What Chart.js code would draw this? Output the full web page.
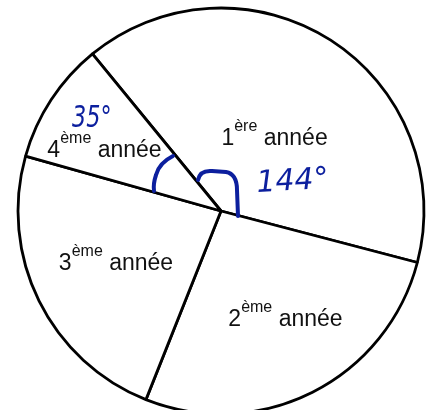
<!DOCTYPE html>
<html>
<head>
<meta charset="utf-8">
<script src="https://cdn.jsdelivr.net/npm/chart.js@4/dist/chart.umd.min.js"></script>
<style>
  body { margin: 0; background: #fff; }
  canvas { display: block; }
</style>
</head>
<body>
<canvas id="camembert" width="432" height="410"></canvas>
<script>
// angles of each year group, in degrees
var rangs = ['1', '2', '3', '4'];
var suffixes = ['ère', 'ème', 'ème', 'ème'];
var mot = 'année';
var degres = [144, 97, 84, 35];

// where each label sits inside its slice: shift from mid angle (deg), fraction of radius
var decalAngle = [3.2, -4.3, 0.4, -5.2];
var decalRayon = [0.45, 0.615, 0.575, 0.65];

var etiquettes = [];
for (var i = 0; i < rangs.length; i++) {
  etiquettes.push(rangs[i] + suffixes[i] + ' ' + mot);
}

var bleu = '#0c1f9e';

// year labels with superscript, drawn inside the slices
var pluginEtiquettes = {
  id: 'etiquettes',
  afterDatasetsDraw: function (chart) {
    var ctx = chart.ctx;
    var meta = chart.getDatasetMeta(0);
    ctx.save();
    ctx.fillStyle = '#111';
    ctx.textBaseline = 'alphabetic';
    ctx.textAlign = 'left';
    meta.data.forEach(function (arc, i) {
      var p = arc.getProps(['x', 'y', 'startAngle', 'endAngle', 'outerRadius'], true);
      var milieu = (p.startAngle + p.endAngle) / 2 + decalAngle[i] * Math.PI / 180;
      var px = p.x + Math.cos(milieu) * p.outerRadius * decalRayon[i];
      var py = p.y + Math.sin(milieu) * p.outerRadius * decalRayon[i];
      ctx.font = '23px "Liberation Sans", Arial, sans-serif';
      var w1 = ctx.measureText(rangs[i]).width;
      var w3 = ctx.measureText(' ' + mot).width;
      ctx.font = '16px "Liberation Sans", Arial, sans-serif';
      var w2 = ctx.measureText(suffixes[i]).width;
      var x0 = px - (w1 + w2 + w3) / 2;
      var base = py + 8;
      ctx.font = '23px "Liberation Sans", Arial, sans-serif';
      ctx.fillText(rangs[i], x0, base);
      ctx.fillText(' ' + mot, x0 + w1 + w2, base);
      ctx.font = '16px "Liberation Sans", Arial, sans-serif';
      ctx.fillText(suffixes[i], x0 + w1, base - 14);
    });
    ctx.restore();
  }
};

// hand-written angle marks in blue, placed from the pie centre
var pluginAnnotations = {
  id: 'annotations',
  afterDraw: function (chart) {
    var ctx = chart.ctx;
    var arc = chart.getDatasetMeta(0).data[0];
    var cx = arc.x, cy = arc.y;
    ctx.save();
    ctx.strokeStyle = bleu;
    ctx.fillStyle = bleu;
    ctx.lineWidth = 4;
    ctx.lineCap = 'round';
    ctx.lineJoin = 'round';

    // hook for the 144° angle
    ctx.beginPath();
    ctx.moveTo(cx - 23, cy - 31);
    ctx.quadraticCurveTo(cx - 21, cy - 41, cx - 9, cy - 40);
    ctx.lineTo(cx + 5, cy - 39);
    ctx.quadraticCurveTo(cx + 16, cy - 37, cx + 16, cy - 21);
    ctx.lineTo(cx + 17, cy + 5);
    ctx.stroke();

    // small arc for the 35° angle
    ctx.beginPath();
    ctx.moveTo(cx - 48, cy - 55);
    ctx.quadraticCurveTo(cx - 62, cy - 48, cx - 65, cy - 36);
    ctx.quadraticCurveTo(cx - 68, cy - 27, cx - 67, cy - 20);
    ctx.stroke();

    ctx.lineWidth = 1;
    ctx.textBaseline = 'alphabetic';
    ctx.textAlign = 'left';

    ctx.save();
    ctx.translate(cx + 36, cy - 19);
    ctx.rotate(-0.06);
    ctx.font = 'italic 30px "DejaVu Sans", sans-serif';
    ctx.fillText('144°', 0, 0);
    ctx.restore();

    ctx.save();
    ctx.translate(cx - 149, cy - 84);
    ctx.scale(0.72, 1);
    ctx.font = 'italic 31px "DejaVu Sans", sans-serif';
    ctx.fillText('35°', 0, 0);
    ctx.restore();

    ctx.restore();
  }
};

const data = {
  labels: etiquettes,
  datasets: [{
    data: degres,
    backgroundColor: '#ffffff',
    borderColor: '#000000',
    borderWidth: 2.8
  }]
};

const config = {
  type: 'pie',
  data,
  options: {
    responsive: false,
    animation: false,
    rotation: -39.3,
    radius: 203,
    clip: false,
    layout: {
      padding: { left: 10, top: 12, right: 0, bottom: 0 }
    },
    plugins: {
      legend: { display: false },
      tooltip: { enabled: false }
    }
  },
  plugins: [pluginEtiquettes, pluginAnnotations]
};

const monGraphique = new Chart(document.getElementById('camembert'), config);
</script>
</body>
</html>
